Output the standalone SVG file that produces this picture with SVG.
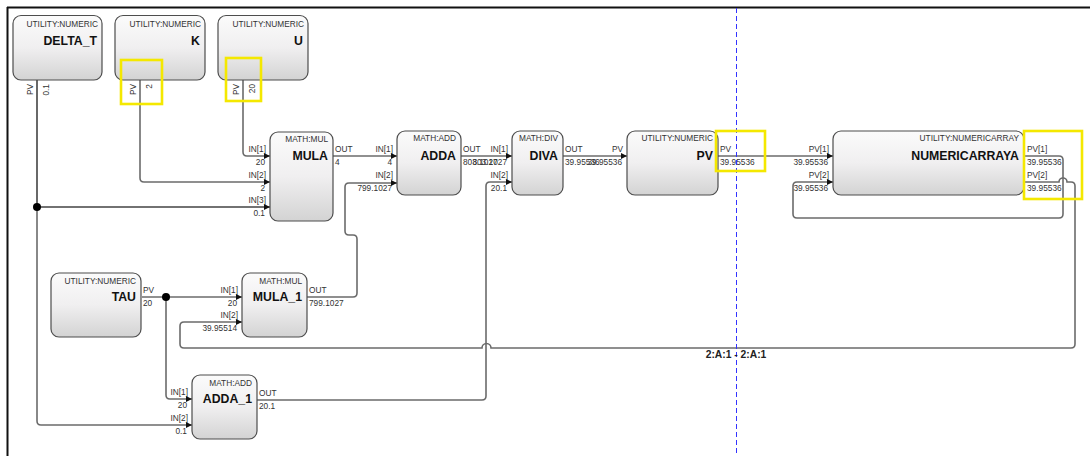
<svg xmlns="http://www.w3.org/2000/svg" width="1090" height="456" viewBox="0 0 1090 456">
<defs>
<linearGradient id="g" x1="0" y1="0" x2="0" y2="1">
<stop offset="0" stop-color="#fbfbfb"/>
<stop offset="0.5" stop-color="#f0eff0"/>
<stop offset="1" stop-color="#d3d3d3"/>
</linearGradient>
<marker id="arr" markerUnits="userSpaceOnUse" markerWidth="7" markerHeight="7" refX="6" refY="3" orient="auto">
<path d="M0,0 L6,3 L0,6 z" fill="#111"/>
</marker>
<style>
text{font-family:"Liberation Sans",Arial,sans-serif}
.box{fill:url(#g);stroke:#4d4d4d;stroke-width:1.2}
.type{font-size:8.3px;fill:#333;text-anchor:end}
.name{font-size:12.3px;font-weight:bold;fill:#111;text-anchor:end}
.pl{font-size:8.3px;fill:#333}
.pr{font-size:8.3px;fill:#333;text-anchor:end}
.c{fill:none;stroke:#6b6b6b;stroke-width:1.6}
.ca{fill:none;stroke:#6b6b6b;stroke-width:1.6;marker-end:url(#arr)}
.dot{fill:#000}
.hl{fill:none;stroke:#f4e800;stroke-width:2.6}
</style>
</defs>
<rect width="1090" height="456" fill="#fff"/>
<g id="frame">
<line x1="7" y1="7.5" x2="1090" y2="7.5" stroke="#111" stroke-width="2"/>
<line x1="7.5" y1="7" x2="7.5" y2="456" stroke="#111" stroke-width="2"/>
</g>
<g id="connectors">
<path class="ca" d="M37,80 V207 H270" style="stroke:#444"/>
<path class="ca" d="M37,200 V421 Q37,425 41,425 H192"/>
<path class="ca" d="M140,80 V178 Q140,182 144,182 H270"/>
<path class="ca" d="M243,80 V152 Q243,156 247,156 H270"/>
<path class="ca" d="M333,156 H397"/>
<path class="ca" d="M461,156 H512"/>
<path class="ca" d="M563,156 H627"/>
<path class="ca" d="M718,156 H833"/>
<path class="ca" d="M307,297 H353 Q357,297 357,293 V239 Q357,235 353,235 H349 Q345,235 345,231 V187 Q345,183 349,183 H397"/>
<path class="ca" d="M257,400 H482 Q486,400 486,396 V186 Q486,182 490,182 H512"/>
<path class="ca" d="M142,297 H242"/>
<path class="ca" d="M166,297 V395 Q166,399 170,399 H192"/>
<path class="ca" d="M1024,156 H1059 Q1063,156 1063,160 V214 Q1063,218 1059,218 H797 Q793,218 793,214 V186 Q793,182 797,182 H833"/>
<path class="ca" d="M1024,182 H1059 A4,4 0 0 1 1067,182 H1071 Q1075,182 1075,186 V344 Q1075,348 1071,348 H491 A4.5,4.5 0 0 0 482,348 H184 Q180,348 180,344 V326 Q180,322 184,322 H242"/>
<circle class="dot" cx="37" cy="207" r="4"/>
<circle class="dot" cx="166" cy="297" r="4"/>
</g>
<g id="DELTA_T">
<rect class="box" x="13" y="15.5" width="89" height="64.5" rx="8"/>
<text class="type" x="98" y="26.5">UTILITY:NUMERIC</text>
<text class="name" x="97" y="45">DELTA_T</text>
<text class="pr" transform="translate(32.5,84) rotate(-90)">PV</text>
<text class="pr" transform="translate(48.5,84) rotate(-90)">0.1</text>
</g>
<g id="K">
<rect class="box" x="115" y="15.5" width="90" height="64.5" rx="8"/>
<text class="type" x="201" y="26.5">UTILITY:NUMERIC</text>
<text class="name" x="200" y="45">K</text>
<text class="pr" transform="translate(135.5,84) rotate(-90)">PV</text>
<text class="pr" transform="translate(151.5,84) rotate(-90)">2</text>
</g>
<g id="U">
<rect class="box" x="218" y="15.5" width="90" height="64.5" rx="8"/>
<text class="type" x="304" y="26.5">UTILITY:NUMERIC</text>
<text class="name" x="303" y="45">U</text>
<text class="pr" transform="translate(238.5,84) rotate(-90)">PV</text>
<text class="pr" transform="translate(254.5,84) rotate(-90)">20</text>
</g>
<g id="MULA">
<rect class="box" x="270" y="132" width="63" height="89" rx="8"/>
<text class="type" x="328" y="141.5">MATH:MUL</text>
<text class="name" x="328" y="160">MULA</text>
<text class="pr" x="266" y="152">IN[1]</text>
<text class="pr" x="265" y="165">20</text>
<text class="pr" x="266" y="178">IN[2]</text>
<text class="pr" x="265" y="191">2</text>
<text class="pr" x="266" y="203">IN[3]</text>
<text class="pr" x="265" y="216">0.1</text>
<text class="pl" x="335" y="152">OUT</text>
<text class="pl" x="335" y="165">4</text>
</g>
<g id="ADDA">
<rect class="box" x="397" y="131" width="64" height="64" rx="8"/>
<text class="type" x="456" y="141">MATH:ADD</text>
<text class="name" x="456" y="160">ADDA</text>
<text class="pr" x="393" y="152">IN[1]</text>
<text class="pr" x="392" y="165">4</text>
<text class="pr" x="393" y="178">IN[2]</text>
<text class="pr" x="392" y="191">799.1027</text>
<text class="pl" x="463" y="152">OUT</text>
<text class="pl" x="463" y="165">803.1027</text>
</g>
<g id="DIVA">
<rect class="box" x="512" y="131" width="51" height="64" rx="8"/>
<text class="type" x="558" y="141">MATH:DIV</text>
<text class="name" x="558" y="160">DIVA</text>
<text class="pr" x="508" y="152">IN[1]</text>
<text class="pr" x="507" y="165">803.1027</text>
<text class="pr" x="508" y="178">IN[2]</text>
<text class="pr" x="507" y="191">20.1</text>
<text class="pl" x="565" y="152">OUT</text>
<text class="pl" x="565" y="165">39.95536</text>
</g>
<g id="PV">
<rect class="box" x="627" y="131" width="91" height="64" rx="8"/>
<text class="type" x="713" y="141">UTILITY:NUMERIC</text>
<text class="name" x="713" y="160">PV</text>
<text class="pr" x="623" y="152">PV</text>
<text class="pr" x="622" y="165">39.95536</text>
<text class="pl" x="720" y="152">PV</text>
<text class="pl" x="720" y="165">39.95536</text>
</g>
<g id="NUMERICARRAYA">
<rect class="box" x="833" y="131" width="191" height="64" rx="8"/>
<text class="type" x="1019" y="141">UTILITY:NUMERICARRAY</text>
<text class="name" x="1019" y="160">NUMERICARRAYA</text>
<text class="pr" x="829" y="152">PV[1]</text>
<text class="pr" x="828" y="165">39.95536</text>
<text class="pr" x="829" y="178">PV[2]</text>
<text class="pr" x="828" y="191">39.95536</text>
<text class="pl" x="1027" y="152">PV[1]</text>
<text class="pl" x="1027" y="165">39.95536</text>
<text class="pl" x="1027" y="178">PV[2]</text>
<text class="pl" x="1027" y="191">39.95536</text>
</g>
<g id="TAU">
<rect class="box" x="51" y="273" width="90" height="64" rx="8"/>
<text class="type" x="136" y="283.5">UTILITY:NUMERIC</text>
<text class="name" x="136" y="301">TAU</text>
<text class="pl" x="143" y="293">PV</text>
<text class="pl" x="143" y="306">20</text>
</g>
<g id="MULA_1">
<rect class="box" x="242" y="273" width="65" height="64" rx="8"/>
<text class="type" x="302" y="283.5">MATH:MUL</text>
<text class="name" x="302" y="301">MULA_1</text>
<text class="pr" x="238" y="293">IN[1]</text>
<text class="pr" x="237" y="306">20</text>
<text class="pr" x="238" y="318">IN[2]</text>
<text class="pr" x="237" y="331">39.95514</text>
<text class="pl" x="309" y="293">OUT</text>
<text class="pl" x="309" y="306">799.1027</text>
</g>
<g id="ADDA_1">
<rect class="box" x="192" y="375" width="65" height="64" rx="8"/>
<text class="type" x="252" y="385.5">MATH:ADD</text>
<text class="name" x="252" y="403">ADDA_1</text>
<text class="pr" x="188" y="395">IN[1]</text>
<text class="pr" x="187" y="408">20</text>
<text class="pr" x="188" y="421">IN[2]</text>
<text class="pr" x="187" y="434">0.1</text>
<text class="pl" x="259" y="396">OUT</text>
<text class="pl" x="259" y="409">20.1</text>
</g>
<g id="pagebreak">
<line x1="736.5" y1="8" x2="736.5" y2="456" stroke="#3333ff" stroke-width="1" stroke-dasharray="5,3"/>
<text x="736" y="358" font-size="10.3" font-weight="bold" fill="#222" text-anchor="middle">2:A:1 - 2:A:1</text>
</g>
<g id="highlights">
<rect class="hl" x="121" y="60" width="41" height="44"/>
<rect class="hl" x="226" y="58" width="35" height="43"/>
<rect class="hl" x="716" y="131" width="49" height="40"/>
<rect class="hl" x="1024" y="131" width="58" height="68"/>
</g>
</svg>
